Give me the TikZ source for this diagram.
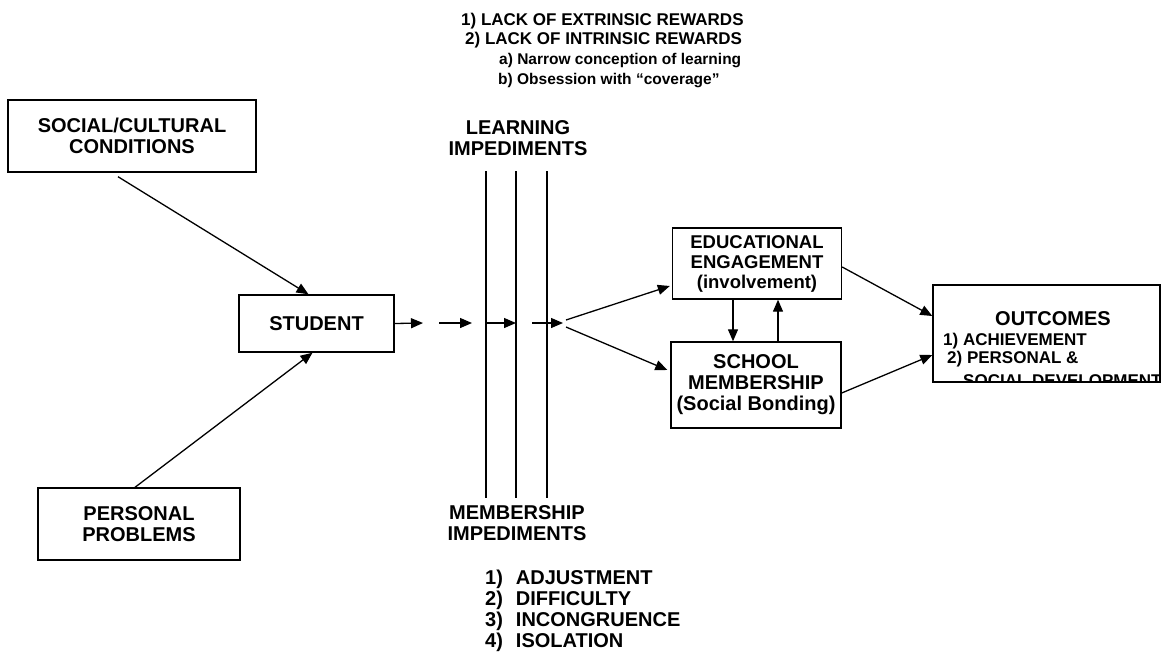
\documentclass[tikz,border=0pt]{standalone}
\usepackage{fontspec}
\setmainfont{Liberation Sans}
\usetikzlibrary{positioning,arrows.meta}

\tikzset{
	box/.style={draw, line width=1.4pt, align=center, inner sep=0pt, font=\fontsize{20}{21}\selectfont\bfseries},
	lbl/.style={inner sep=0pt, align=center, font=\fontsize{20}{21}\selectfont\bfseries},
	toplbl/.style={inner sep=0pt, font=\fontsize{17}{20}\selectfont\bfseries},
	sublbl/.style={inner sep=0pt, font=\fontsize{15.5}{20}\selectfont\bfseries},
	conn/.style={line width=1.3pt, -{Triangle[length=12pt,width=10pt]}},
	bar/.style={line width=1.3pt}
}

\begin{document}
\begin{tikzpicture}[x=1pt,y=-1pt]
		\useasboundingbox (0,0) rectangle (1161,651);
		\begin{scope}
			\node(soc) [box, minimum width=248pt, minimum height=72pt] at (132,136) {SOCIAL/CULTURAL\\CONDITIONS};
			\node(stu) [box, minimum width=155pt, minimum height=57pt] at (316.5,323.5) {STUDENT};
			\node(per) [box, minimum width=202pt, minimum height=72pt] at (139,524) {PERSONAL\\PROBLEMS};
			\node(edu) [box, minimum width=169pt, minimum height=71pt, font=\fontsize{18.5}{20}\selectfont\bfseries] at (757,263.5) {EDUCATIONAL\\ENGAGEMENT\\(involvement)};
			\node(sch) [box, minimum width=170pt, minimum height=86pt] at (756,385) {SCHOOL\\MEMBERSHIP\\(Social Bonding)};
			\node(out) [box, minimum width=227pt, minimum height=97pt] at (1046.5,333.5) {};
		\end{scope}
		\begin{scope}
			\node(t1) [toplbl, anchor=base west] at (461,25) {1) LACK OF EXTRINSIC REWARDS};
			\node(t2) [toplbl, below=19pt of t1.base west, anchor=base west, xshift=4pt] {2) LACK OF INTRINSIC REWARDS};
			\node(t3) [sublbl, below=20pt of t2.base west, anchor=base west, xshift=34pt] {a) Narrow conception of learning};
			\node(t4) [sublbl, below=20pt of t3.base west, anchor=base west, xshift=-1pt] {b) Obsession with “coverage”};
			\node(lrn) [lbl, anchor=base] at (518,155) {LEARNING\\IMPEDIMENTS};
			\node(mbr) [lbl, anchor=base] at (517,540) {MEMBERSHIP\\IMPEDIMENTS};
			\node(lst) [lbl, anchor=base west] at (485,584) {\begin{tabular}[t]{@{}l@{\hspace{13pt}}l@{}}1) & ADJUSTMENT\\2) & DIFFICULTY\\3) & INCONGRUENCE\\4) & ISOLATION\end{tabular}};
			\node(oh) [lbl, anchor=base] at (1053,325) {OUTCOMES};
			\node(o1) [toplbl, anchor=base west] at (943,345) {1) ACHIEVEMENT};
			\node(o2) [toplbl, below=18pt of o1.base west, anchor=base west, xshift=4pt] {2) PERSONAL \&};
			\clip (out.north west) rectangle (out.south east);
			\node(o3) [toplbl, below=23pt of o2.base west, anchor=base west, xshift=16pt] {SOCIAL DEVELOPMENT};
		\end{scope}
		\coordinate (l1t) at (486,171);
		\coordinate (l1b) at (486,498);
		\coordinate (l2t) at (516,171);
		\coordinate (l2b) at (516,498);
		\coordinate (l3t) at (547,171);
		\coordinate (l3b) at (547,498);
		\coordinate (c1) at (423,323);
		\coordinate (c2) at (439,323);
		\coordinate (c3) at (472,323);
		\coordinate (l1m) at (486,323);
		\coordinate (l2m) at (516,323);
		\coordinate (c4) at (532,323);
		\coordinate (c5) at (563,323);
		\coordinate (f1) at (566,320);
		\coordinate (f2) at (566,327);
		\path[bar]
			(l1t) edge (l1b)
			(l2t) edge (l2b)
			(l3t) edge (l3b);
		\path[conn]
			([shift={(-14,4)}]soc.south) edge ([xshift=-8pt]stu.north)
			([xshift=-4pt]per.north) edge ([xshift=-4pt]stu.south)
			(stu.east) edge (c1)
			(c2) edge (c3)
			(l1m) edge (l2m)
			(c4) edge (c5)
			(f1) edge ([shift={(-2,22.5)}]edu.west)
			(f2) edge ([shift={(-3,-15)}]sch.west)
			([shift={(-24,0)}]edu.south) edge ([shift={(-23,0)}]sch.north)
			([shift={(22,0)}]sch.north) edge ([shift={(21,0)}]edu.south)
			([shift={(0,3.5)}]edu.east) edge ([shift={(0,-17.5)}]out.west)
			([shift={(0,8)}]sch.east) edge ([shift={(0,21.5)}]out.west);
	\end{tikzpicture}
\end{document}
